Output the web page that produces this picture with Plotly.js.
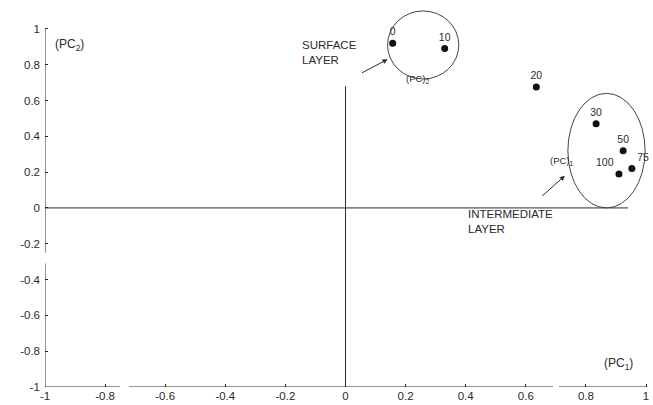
<!DOCTYPE html>
<html>
<head>
<meta charset="utf-8">
<script src="https://cdn.plot.ly/plotly-3.0.1.min.js"></script>
<style>html,body{margin:0;padding:0;background:#fff;}#chart{width:653px;height:405px;}</style>
</head>
<body>
<div id="chart"></div>
<script>
// Depth labels and PCA loadings
const depthLabels = ['0', '10', '20', '30', '50', '75', '100'];
const pc1Values = [0.157, 0.33, 0.635, 0.834, 0.924, 0.953, 0.91];
const pc2Values = [0.92, 0.89, 0.675, 0.47, 0.32, 0.22, 0.19];
const labelPositions = ['top center', 'top center', 'top center', 'top center', 'top center', 'top right', 'top left'];
const tickValues = [-1, -0.8, -0.6, -0.4, -0.2, 0, 0.2, 0.4, 0.6, 0.8, 1];
const tickLabels = ['-1', '-0.8', '-0.6', '-0.4', '-0.2', '0', '0.2', '0.4', '0.6', '0.8', '1'];

const ink = '#2a2a2a';
const fontFam = 'Liberation Sans, Arial, sans-serif';

const trace = {
  x: pc1Values,
  y: pc2Values,
  mode: 'markers+text',
  type: 'scatter',
  text: depthLabels,
  textposition: labelPositions,
  textfont: {family: fontFam, size: 10.5, color: ink},
  marker: {color: '#111', size: 7},
  cliponaxis: false,
  hoverinfo: 'skip'
};

function seg(x0, y0, x1, y1) {
  return {type: 'line', xref: 'x', yref: 'y', x0: x0, y0: y0, x1: x1, y1: y1,
          line: {color: ink, width: 1}};
}

const shapes = [
  // left axis (with scan gap)
  seg(-1, -1, -1, -0.31), seg(-1, -0.25, -1, 1),
  // bottom axis (with scan gaps)
  seg(-1, -1, -0.75, -1), seg(-0.72, -1, 0.69, -1), seg(0.71, -1, 1, -1),
  // zero lines
  seg(0, -1, 0, 0.68),
  seg(-1, 0, 0.94, 0),
  // ellipses
  {type: 'circle', xref: 'x', yref: 'y', x0: 0.14, x1: 0.377, y0: 0.72, y1: 1.10,
   line: {color: '#444', width: 1}},
  {type: 'circle', xref: 'x', yref: 'y', x0: 0.74, x1: 0.997, y0: 0.0, y1: 0.64,
   line: {color: '#444', width: 1}}
];

const annFont = {family: fontFam, size: 11.5, color: ink};
const annotations = [
  {x: -0.92, y: 0.91, xref: 'x', yref: 'y', text: '(PC<sub>2</sub>)', showarrow: false, font: {family: fontFam, size: 12, color: ink}},
  {x: 0.91, y: -0.87, xref: 'x', yref: 'y', text: '(PC<sub>1</sub>)', showarrow: false, font: {family: fontFam, size: 12, color: ink}},
  {x: -0.152, y: 0.87, xref: 'x', yref: 'y', text: 'SURFACE<br>LAYER', showarrow: false, align: 'left', xanchor: 'left', font: annFont},
  {x: 0.4, y: 0.01, xref: 'x', yref: 'y', text: 'INTERMEDIATE<br>LAYER', showarrow: false, align: 'left', xanchor: 'left', yanchor: 'top', font: annFont},
  {x: 0.24, y: 0.72, xref: 'x', yref: 'y', text: '(PC)<sub>2</sub>', showarrow: false, font: {family: fontFam, size: 9.5, color: ink}},
  {x: 0.72, y: 0.26, xref: 'x', yref: 'y', text: '(PC)<sub>1</sub>', showarrow: false, font: {family: fontFam, size: 9.5, color: ink}},
  // arrows
  {x: 0.14, y: 0.83, ax: 0.05, ay: 0.75, xref: 'x', yref: 'y', axref: 'x', ayref: 'y', text: '',
   showarrow: true, arrowhead: 2, arrowsize: 1, arrowwidth: 1, arrowcolor: ink},
  {x: 0.73, y: 0.18, ax: 0.65, ay: 0.06, xref: 'x', yref: 'y', axref: 'x', ayref: 'y', text: '',
   showarrow: true, arrowhead: 2, arrowsize: 1, arrowwidth: 1, arrowcolor: ink}
];

const layout = {
  width: 653,
  height: 405,
  margin: {l: 45, r: 4, t: 2, b: 18},
  paper_bgcolor: '#fff',
  plot_bgcolor: '#fff',
  showlegend: false,
  xaxis: {
    range: [-1, 1.01], tickvals: tickValues, ticktext: tickLabels,
    showgrid: false, zeroline: false, showline: false,
    ticks: 'inside', ticklen: 3, tickcolor: ink,
    tickfont: {family: fontFam, size: 11.5, color: ink}, fixedrange: true
  },
  yaxis: {
    range: [-1, 1.15], tickvals: tickValues, ticktext: tickLabels,
    showgrid: false, zeroline: false, showline: false,
    ticks: 'inside', ticklen: 3, tickcolor: ink, ticklabelstandoff: 4,
    tickfont: {family: fontFam, size: 11.5, color: ink}, fixedrange: true
  },
  shapes: shapes,
  annotations: annotations
};

Plotly.newPlot('chart', [trace], layout, {displayModeBar: false, staticPlot: true});
</script>
</body>
</html>
